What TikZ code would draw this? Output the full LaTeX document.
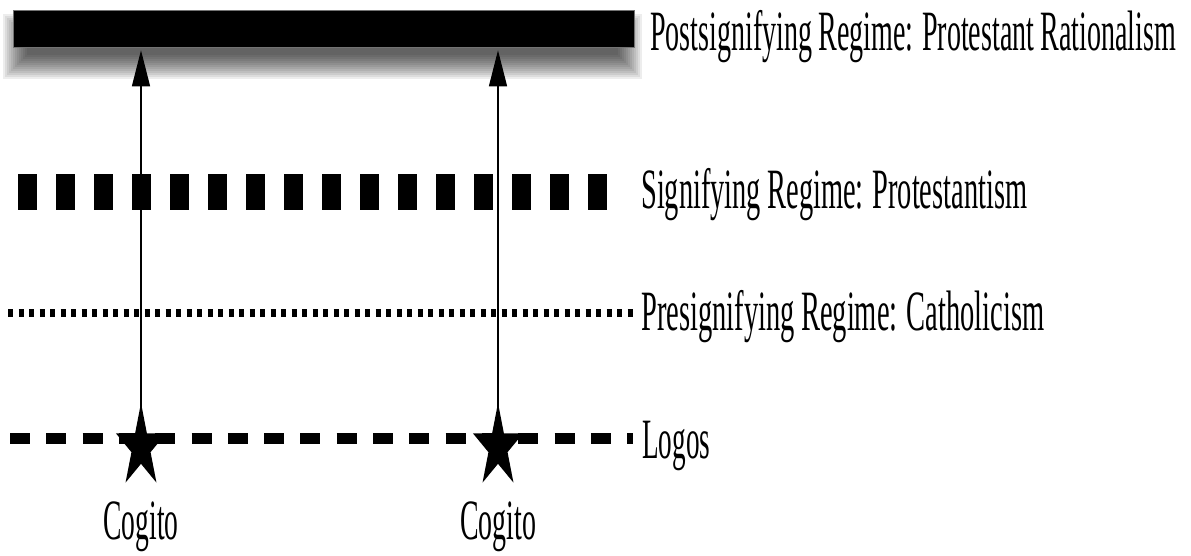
\documentclass[tikz,border=0pt]{standalone}
\usepackage{fontspec}
\usepackage{graphicx}
\setmainfont{Liberation Serif}[WordSpace=0.9]
\usetikzlibrary{arrows.meta}

% narrow, tall lettering: keep the natural height, force the width
\newcommand{\squeezed}[2]{\resizebox{#1}{\height}{#2}}

\tikzset{
  regime text/.style={inner sep=0pt, anchor=base west, font=\fontsize{57}{62}\selectfont},
  cogito text/.style={inner sep=0pt, anchor=base, font=\fontsize{57}{62}\selectfont},
  rise/.style={line width=1.3pt, -{Triangle[length=36pt,width=18pt]}},
  signifying line/.style={line width=36pt, dash pattern=on 19pt off 19pt},
  presignifying line/.style={line width=8pt, dash pattern=on 5.25pt off 5.25pt},
  logos line/.style={line width=11pt, dash pattern=on 20pt off 16.3pt},
  cogstar/.pic={
    \fill (90:26.3 and 44) -- (126:10.05 and 16.8) -- (162:26.3 and 44)
      -- (198:10.05 and 16.8) -- (234:26.3 and 44) -- (270:10.05 and 16.8)
      -- (306:26.3 and 44) -- (342:10.05 and 16.8) -- (18:26.3 and 44)
      -- (54:10.05 and 16.8) -- cycle;
  }
}

\begin{document}
\begin{tikzpicture}[x=1pt,y=1pt]
\useasboundingbox (0,0) rectangle (1191,556);

% soft shadow under the top bar, built from stacked translucent layers
\foreach \k in {0,...,12}{
  \pgfmathsetmacro{\e}{12-2*\k}
  \fill[black, opacity=0.07] (15-\e,489-\e) rectangle (630+\e,530+\e);
}

% the postsignifying bar
\node[fill=black, draw=black!55, line width=0.6pt, inner sep=0pt,
      minimum width=621pt, minimum height=37pt] (post) at (323.5,527.5) {};

% signifying regime: heavy blocks
\coordinate (sigL) at (18,364);
\coordinate (sigR) at (607,364);
\draw[signifying line] (sigL) -- (sigR);

% presignifying regime: fine dots
\coordinate (preL) at (8,243);
\coordinate (preR) at (633,243);
\draw[presignifying line] (preL) -- (preR);

% logos: dashes
\coordinate (logL) at (10,117.5);
\coordinate (logR) at (633,117.5);
\draw[logos line] (logL) -- (logR);

% the two cogitos
\coordinate (s1) at (141,109);
\coordinate (s2) at (498,109);
\draw[rise, shorten >=3pt] (s1) -- (s1 |- post.south);
\draw[rise, shorten >=3pt] (s2) -- (s2 |- post.south);
\pic (star1) at (s1) {cogstar};
\pic (star2) at (s2) {cogstar};

% labels
\node[regime text] (tpost) at (650,505) {\squeezed{526pt}{Postsignifying Regime: Protestant Rationalism}};
\node[regime text] (tsig) at (641,347) {\squeezed{386pt}{Signifying Regime: Protestantism}};
\node[regime text] (tpre) at (641,225) {\squeezed{403pt}{Presignifying Regime: Catholicism}};
\node[regime text] (tlog) at (642,97) {\squeezed{68pt}{Logos}};
\node[cogito text] (c1) at (141,16) {\squeezed{75pt}{Cogito}};
\node[cogito text] (c2) at (498,16) {\squeezed{76pt}{Cogito}};
\end{tikzpicture}
\end{document}
